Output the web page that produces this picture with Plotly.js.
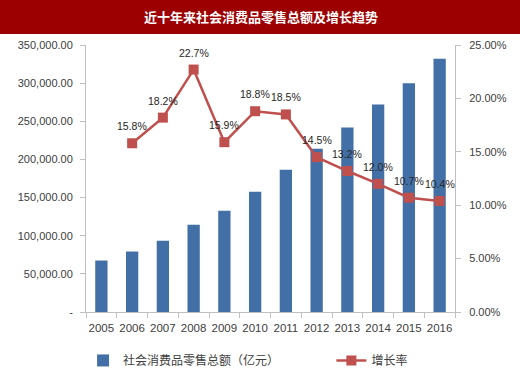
<!DOCTYPE html>
<html>
<head>
<meta charset="utf-8">
<script src="https://cdn.plot.ly/plotly-3.0.1.min.js"></script>
<style>
html,body{margin:0;padding:0;background:#fff;}
#chart{width:520px;height:372px;}
</style>
</head>
<body>
<div id="chart"></div>
<script>
const years = ['2005','2006','2007','2008','2009','2010','2011','2012','2013','2014','2015','2016'];
const retailSales = [67500, 79300, 93500, 114500, 132600, 157500, 186500, 214000, 242000, 272000, 300000, 332000];
const growthYears = ['2006','2007','2008','2009','2010','2011','2012','2013','2014','2015','2016'];
const growthRate = [15.8, 18.2, 22.7, 15.9, 18.8, 18.5, 14.5, 13.2, 12.0, 10.7, 10.4];
const leftTickVals = [0, 50000, 100000, 150000, 200000, 250000, 300000, 350000];
const leftTickText = ['-', '50,000.00', '100,000.00', '150,000.00', '200,000.00', '250,000.00', '300,000.00', '350,000.00'];
const rightTickVals = [0, 5, 10, 15, 20, 25];
const rightTickText = ['0.00%', '5.00%', '10.00%', '15.00%', '20.00%', '25.00%'];
const titleText = '近十年来社会消费品零售总额及增长趋势';
const barName = '社会消费品零售总额（亿元）';
const lineName = '增长率';

const barColor = '#4270a6';
const lineColor = '#c0504d';
const axisColor = '#bfbfbf';
const tickFont = {family: 'Liberation Sans, Arial, sans-serif', size: 11, color: '#404040'};
const legendFont = {family: 'Noto Sans CJK SC, sans-serif', size: 12, color: '#404040'};

const traces = [
  {
    type: 'bar', x: years, y: retailSales, name: barName,
    marker: {color: barColor}, yaxis: 'y', hoverinfo: 'skip', legend: 'legend'
  },
  {
    type: 'scatter', mode: 'lines+markers', x: growthYears, y: growthRate, name: lineName,
    yaxis: 'y2', line: {color: lineColor, width: 2.5},
    marker: {symbol: 'square', size: 10, color: lineColor}, hoverinfo: 'skip', legend: 'legend2'
  }
];

const annotations = growthYears.map((yr, i) => ({
  x: years.indexOf(yr), y: growthRate[i], xref: 'x', yref: 'y2',
  text: growthRate[i].toFixed(1) + '%', showarrow: false,
  yshift: 17, font: {family: 'Liberation Sans, Arial, sans-serif', size: 10.5, color: '#262626'}
}));
annotations.push({
  xref: 'paper', yref: 'paper', x: 0.473, y: 1.105, xanchor: 'center', yanchor: 'middle',
  text: '<b>' + titleText + '</b>', showarrow: false,
  font: {family: 'Noto Sans CJK SC, sans-serif', size: 13, color: '#ffffff'}
});

const layout = {
  width: 520, height: 372,
  margin: {l: 86, r: 65, t: 45, b: 60.3, pad: 0, autoexpand: false},
  paper_bgcolor: '#ffffff', plot_bgcolor: '#ffffff',
  showlegend: true,
  bargap: 0.6,
  xaxis: {
    type: 'category', range: [-0.5, 11.5], showgrid: false, showline: true, linecolor: axisColor, linewidth: 1,
    ticks: 'outside', tickson: 'boundaries', ticklen: 5, tickcolor: axisColor,
    tickfont: {family: 'Liberation Sans, Arial, sans-serif', size: 11.5, color: '#404040'},
    zeroline: false, tickangle: 0, automargin: false, ticklabelstandoff: 5
  },
  yaxis: {
    range: [0, 350000], tickvals: leftTickVals, ticktext: leftTickText,
    showgrid: false, showline: true, linecolor: axisColor, ticks: 'outside', ticklen: 5,
    tickcolor: axisColor, tickfont: tickFont, zeroline: false, ticklabelstandoff: 5, automargin: false
  },
  yaxis2: {
    range: [0, 25], tickvals: rightTickVals, ticktext: rightTickText,
    overlaying: 'y', side: 'right', showgrid: false, showline: true, linecolor: axisColor,
    ticks: 'outside', ticklen: 5, tickcolor: axisColor, tickfont: tickFont, zeroline: false,
    ticklabelstandoff: 6, automargin: false
  },
  legend: {
    orientation: 'h', x: -0.008, xanchor: 'left', yref: 'container', y: 0.07, yanchor: 'top',
    font: legendFont, bgcolor: 'rgba(0,0,0,0)'
  },
  legend2: {
    orientation: 'h', x: 0.665, xanchor: 'left', yref: 'container', y: 0.07, yanchor: 'top',
    font: legendFont, bgcolor: 'rgba(0,0,0,0)'
  },
  shapes: [{
    type: 'rect', xref: 'paper', yref: 'paper',
    x0: -0.2331, x1: 1.1762, y0: 1.0413, y1: 1.17,
    fillcolor: '#9c0000', line: {width: 0}, layer: 'below'
  }],
  annotations: annotations
};

Plotly.newPlot('chart', traces, layout, {staticPlot: true, displayModeBar: false});
</script>
</body>
</html>
